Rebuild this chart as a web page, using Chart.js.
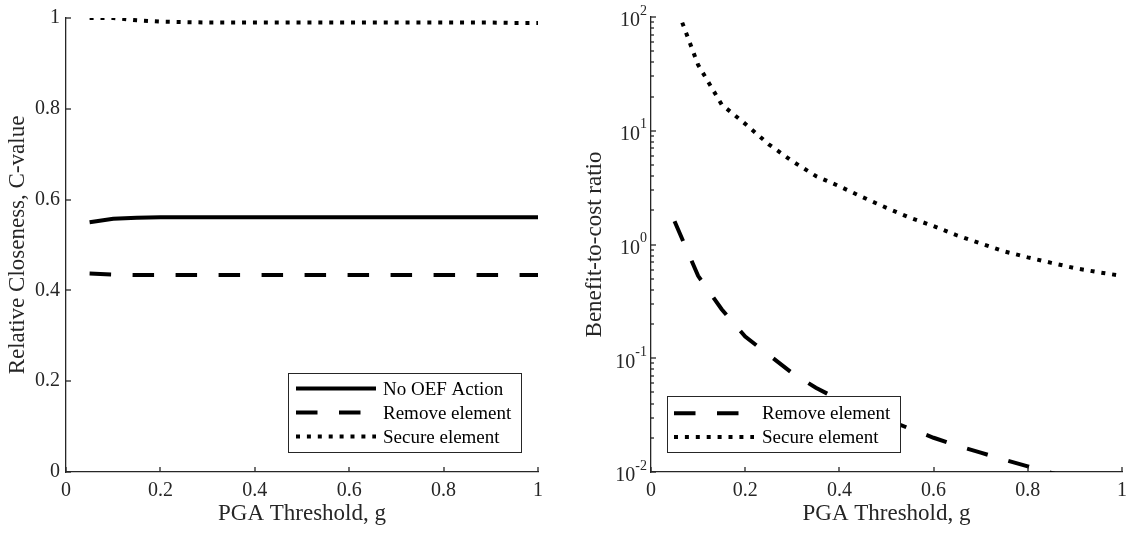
<!DOCTYPE html>
<html><head><meta charset="utf-8">
<script src="https://cdn.jsdelivr.net/npm/chart.js@4/dist/chart.umd.min.js"></script>
<style>
body{margin:0;background:#fff;width:1134px;height:533px;overflow:hidden;position:relative}
canvas{position:absolute;top:0}
</style></head><body>
<canvas id="c1" width="567" height="533" style="left:0"></canvas>
<canvas id="c2" width="567" height="533" style="left:567px"></canvas>
<script>
// ---- data ----
const pga = [0.05,0.10,0.15,0.20,0.25,0.30,0.35,0.40,0.45,0.50,0.55,0.60,0.65,0.70,0.75,0.80,0.85,0.90,0.95,1.00];
const cNoAction = [0.550,0.558,0.560,0.561,0.561,0.561,0.561,0.561,0.561,0.561,0.561,0.561,0.561,0.561,0.561,0.561,0.561,0.561,0.561,0.561];
const cRemove   = [0.437,0.435,0.434,0.434,0.434,0.434,0.434,0.434,0.434,0.434,0.434,0.434,0.434,0.434,0.434,0.434,0.434,0.434,0.434,0.434];
const cSecure   = [1.000,1.000,0.995,0.992,0.991,0.990,0.990,0.990,0.990,0.990,0.990,0.990,0.990,0.990,0.990,0.990,0.990,0.990,0.989,0.989];
const bcrRemove = [1.6,0.53,0.27,0.155,0.107,0.074,0.055,0.043,0.035,0.029,0.024,0.020,0.017,0.0148,0.0128,0.0112,0.0098,0.0087,0.0078,0.0070];
const bcrSecure = [135,38,17,11.5,7.6,5.4,4.0,3.25,2.6,2.1,1.72,1.45,1.2,1.02,0.87,0.77,0.69,0.62,0.57,0.53];
const xTicks = [0,0.2,0.4,0.6,0.8,1];
const yTicksLeft = [0,0.2,0.4,0.6,0.8,1];
const logExponents = [-2,-1,0,1,2];

const FONT = "'Liberation Serif', 'Times New Roman', serif";
const AX = '#262626';
const DASH = [21.5,21.5];
const DOT = [4,6.9];

function pts(xs, ys){ return xs.map((x,i)=>({x:x,y:ys[i]})); }
function isPow10(v){ const l=Math.log10(v); return Math.abs(l-Math.round(l))<1e-9; }
function fmt(v){ return String(+v.toFixed(2)); }

const inwardTicks = {
  id:'inwardTicks',
  afterDraw(chart){
    const ctx=chart.ctx, a=chart.chartArea;
    const xs=chart.scales.x, ys=chart.scales.y;
    ctx.save(); ctx.strokeStyle=AX; ctx.lineWidth=1.3;
    xs.ticks.forEach(t=>{
      const px=Math.round(xs.getPixelForValue(t.value));
      ctx.beginPath(); ctx.moveTo(px,a.bottom); ctx.lineTo(px,a.bottom-5); ctx.stroke();
    });
    ys.ticks.forEach(t=>{
      const py=Math.round(ys.getPixelForValue(t.value));
      const len=(ys.type!=='logarithmic'||isPow10(t.value))?5:3;
      ctx.beginPath(); ctx.moveTo(a.left,py); ctx.lineTo(a.left+len,py); ctx.stroke();
    });
    ctx.restore();
  }
};

const logTickLabels = {
  id:'logTickLabels',
  afterDraw(chart){
    const ys=chart.scales.y, ctx=chart.ctx, a=chart.chartArea;
    ctx.save(); ctx.fillStyle=AX; ctx.textBaseline='middle'; ctx.textAlign='left';
    logExponents.forEach(e=>{
      const py=ys.getPixelForValue(Math.pow(10,e));
      const es=String(e);
      ctx.font='14px '+FONT; const ew=ctx.measureText(es).width;
      ctx.font='20px '+FONT; const bw=ctx.measureText('10').width;
      const right=a.left-4;
      ctx.fillText('10', right-ew-bw, py+4);
      ctx.font='14px '+FONT; ctx.fillText(es, right-ew, py-6);
    });
    ctx.restore();
  }
};

const legendBox = {
  id:'legendBox',
  afterDraw(chart, args, o){
    const ctx=chart.ctx;
    ctx.save();
    ctx.fillStyle='#fff'; ctx.fillRect(o.x,o.y,o.w,o.h);
    ctx.strokeStyle=AX; ctx.lineWidth=1; ctx.strokeRect(o.x+0.5,o.y+0.5,o.w,o.h);
    chart.data.datasets.forEach((ds,i)=>{
      const yy=o.y+o.first+i*o.row;
      ctx.beginPath(); ctx.setLineDash(ds.borderDash||[]); ctx.lineWidth=ds.borderWidth; ctx.strokeStyle=ds.borderColor;
      ctx.moveTo(o.x+o.sx,yy); ctx.lineTo(o.x+o.sx+o.sw,yy); ctx.stroke();
      ctx.setLineDash([]); ctx.fillStyle='#000'; ctx.font='19px '+FONT; ctx.textBaseline='middle'; ctx.textAlign='left';
      ctx.fillText(ds.label,o.x+o.tx,yy+1);
    });
    ctx.restore();
  }
};

function ds(label, data, dash){
  return {label, data, borderColor:'#000', backgroundColor:'#000', borderWidth:4, borderDash:dash, borderCapStyle:'butt', pointRadius:0, tension:0, fill:false};
}

function xScale(){
  return {type:'linear', min:0, max:1,
    afterBuildTicks: s=>{ s.ticks = xTicks.map(v=>({value:v})); },
    ticks:{color:AX, font:{family:FONT,size:20}, padding:7, maxRotation:0, autoSkip:false, callback:v=>fmt(v)},
    grid:{display:true, drawOnChartArea:false, drawTicks:false},
    border:{display:true, color:AX, width:1.3},
    title:{display:true, text:'PGA Threshold, g', color:AX, font:{family:FONT,size:23}, padding:{top:0,bottom:5}},
    afterFit: s=>{ s.height=61; }
  };
}

new Chart(document.getElementById('c1'), {
  type:'line',
  data:{datasets:[ds('No OEF Action',pts(pga,cNoAction),[]), ds('Remove element',pts(pga,cRemove),DASH), ds('Secure element',pts(pga,cSecure),DOT)]},
  options:{responsive:false, animation:false, devicePixelRatio:1,
    layout:{padding:{left:0,top:17,right:29,bottom:0}},
    plugins:{legend:{display:false}, tooltip:{enabled:false},
      legendBox:{x:288,y:373,w:233,h:79,first:15.6,row:24,sx:8,sw:80,tx:95}},
    scales:{
      x:xScale(),
      y:{type:'linear', min:0, max:1,
        afterBuildTicks: s=>{ s.ticks = yTicksLeft.map(v=>({value:v})); },
        ticks:{color:AX, font:{family:FONT,size:20}, padding:6, autoSkip:false, callback:v=>fmt(v)},
        grid:{display:true, drawOnChartArea:false, drawTicks:false},
        border:{display:true, color:AX, width:1.3},
        title:{display:true, text:'Relative Closeness, C-value', color:AX, font:{family:FONT,size:23}, padding:{top:4.6,bottom:0}},
        afterFit: s=>{ s.width=66; }
      }
    }
  },
  plugins:[inwardTicks, legendBox]
});

new Chart(document.getElementById('c2'), {
  type:'line',
  data:{datasets:[ds('Remove element',pts(pga,bcrRemove),DASH), ds('Secure element',pts(pga,bcrSecure),DOT)]},
  options:{responsive:false, animation:false, devicePixelRatio:1,
    layout:{padding:{left:0,top:17,right:10,bottom:0}},
    plugins:{legend:{display:false}, tooltip:{enabled:false},
      legendBox:{x:100,y:396,w:233,h:56,first:17.2,row:23.8,sx:7,sw:80,tx:95}},
    scales:{
      x:xScale(),
      y:{type:'logarithmic', min:0.01, max:100,
        afterBuildTicks: s=>{
          const t=[];
          for(let e=-2;e<=1;e++){ for(let m=1;m<=9;m++){ t.push({value:parseFloat((m*Math.pow(10,e)).toPrecision(3))}); } }
          t.push({value:100});
          s.ticks=t;
        },
        ticks:{autoSkip:false, color:AX, font:{family:FONT,size:20}, padding:4, callback:()=>''},
        grid:{display:true, drawOnChartArea:false, drawTicks:false},
        border:{display:true, color:AX, width:1.3},
        title:{display:true, text:'Benefit-to-cost ratio', color:AX, font:{family:FONT,size:23}, padding:{top:13.8,bottom:0}},
        afterFit: s=>{ s.width=84; }
      }
    }
  },
  plugins:[inwardTicks, logTickLabels, legendBox]
});
</script>
</body></html>
